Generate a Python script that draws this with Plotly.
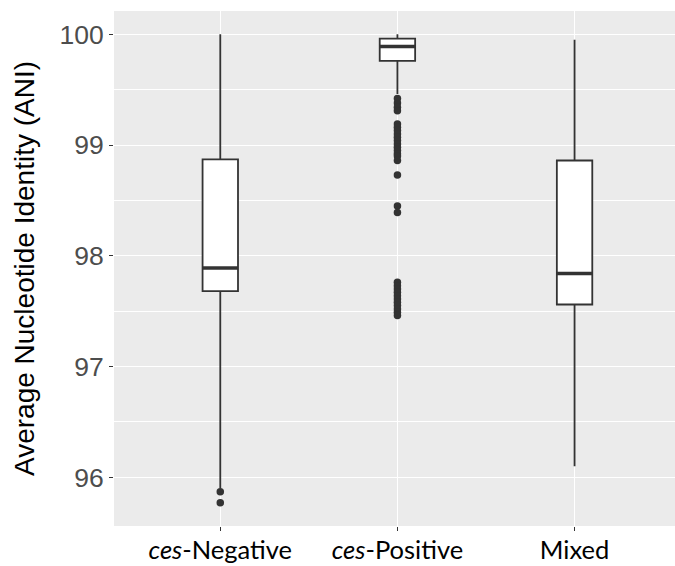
import plotly.graph_objects as go

categories = ["ces-Negative", "ces-Positive", "Mixed"]
tick_labels = ["<i>ces</i>-Negative", "<i>ces</i>-Positive", "Mixed"]
positions = [0, 1, 2]

lower_fence = [95.90, 99.46, 96.10]
q1 = [97.68, 99.76, 97.56]
median = [97.89, 99.89, 97.84]
q3 = [98.87, 99.96, 98.86]
upper_fence = [100.00, 100.00, 99.95]

outliers_neg = [95.87, 95.77]
outliers_pos = [99.42, 99.38, 99.34, 99.31, 99.19, 99.16, 99.13, 99.10, 99.07,
                99.04, 99.01, 98.98, 98.95, 98.92, 98.90, 98.86, 98.73, 98.45,
                98.39, 97.76, 97.73, 97.70, 97.67, 97.64, 97.61, 97.58, 97.55,
                97.52, 97.49, 97.46]
outliers_mix = []

y_ticks = [96, 97, 98, 99, 100]

dark = "#333333"
box_w = 0.2

fig = go.Figure()
for i, cat in enumerate(categories):
    fig.add_trace(go.Box(
        x=[positions[i]], q1=[q1[i]], median=[median[i]], q3=[q3[i]],
        lowerfence=[lower_fence[i]], upperfence=[upper_fence[i]],
        width=box_w, whiskerwidth=0, boxpoints=False,
        fillcolor="white", line=dict(color=dark, width=1.8),
        name=cat, showlegend=False, hoverinfo="skip"))
    fig.add_trace(go.Scatter(
        x=[positions[i] - box_w / 2, positions[i] + box_w / 2],
        y=[median[i], median[i]], mode="lines",
        line=dict(color=dark, width=3.6), showlegend=False, hoverinfo="skip"))

for i, pts in enumerate([outliers_neg, outliers_pos, outliers_mix]):
    if pts:
        fig.add_trace(go.Scatter(
            x=[positions[i]] * len(pts), y=pts, mode="markers",
            marker=dict(color=dark, size=7.5, line=dict(width=0)),
            showlegend=False, hoverinfo="skip"))

fig.update_layout(
    width=675, height=566,
    margin=dict(l=114, r=0, t=11, b=40, autoexpand=False),
    paper_bgcolor="white", plot_bgcolor="#EBEBEB",
    xaxis=dict(range=[-0.6, 2.567], tickmode="array", tickvals=positions,
               ticktext=tick_labels, showgrid=True, gridcolor="white",
               gridwidth=1.4, zeroline=False, ticks="outside", ticklen=4,
               tickcolor=dark, tickwidth=1.1, automargin=False,
               ticklabelstandoff=-3,
               tickfont=dict(family="Lato, Open Sans, sans-serif", size=25.5,
                             color="black")),
    yaxis=dict(range=[95.56, 100.21], tickmode="array", tickvals=y_ticks,
               showgrid=True, gridcolor="white", gridwidth=1.4, zeroline=False,
               ticks="outside", ticklen=4, tickcolor=dark, tickwidth=1.1,
               automargin=False,
               tickfont=dict(family="Liberation Sans, Arial, sans-serif",
                             size=26.5, color="#4D4D4D"),
               minor=dict(tickvals=[95.5, 96.5, 97.5, 98.5, 99.5], showgrid=True,
                          gridcolor="white", gridwidth=0.7, ticks=""),
               title=dict(text="Average Nucleotide Identity (ANI)",
                          font=dict(family="Liberation Sans, Arial, sans-serif",
                                    size=28, color="black"),
                          standoff=16)),
)

fig.write_html(
    "out.html",
    config={"displayModeBar": False},
    post_script="document.body.style.margin='0';document.body.style.overflow='hidden';",
)
